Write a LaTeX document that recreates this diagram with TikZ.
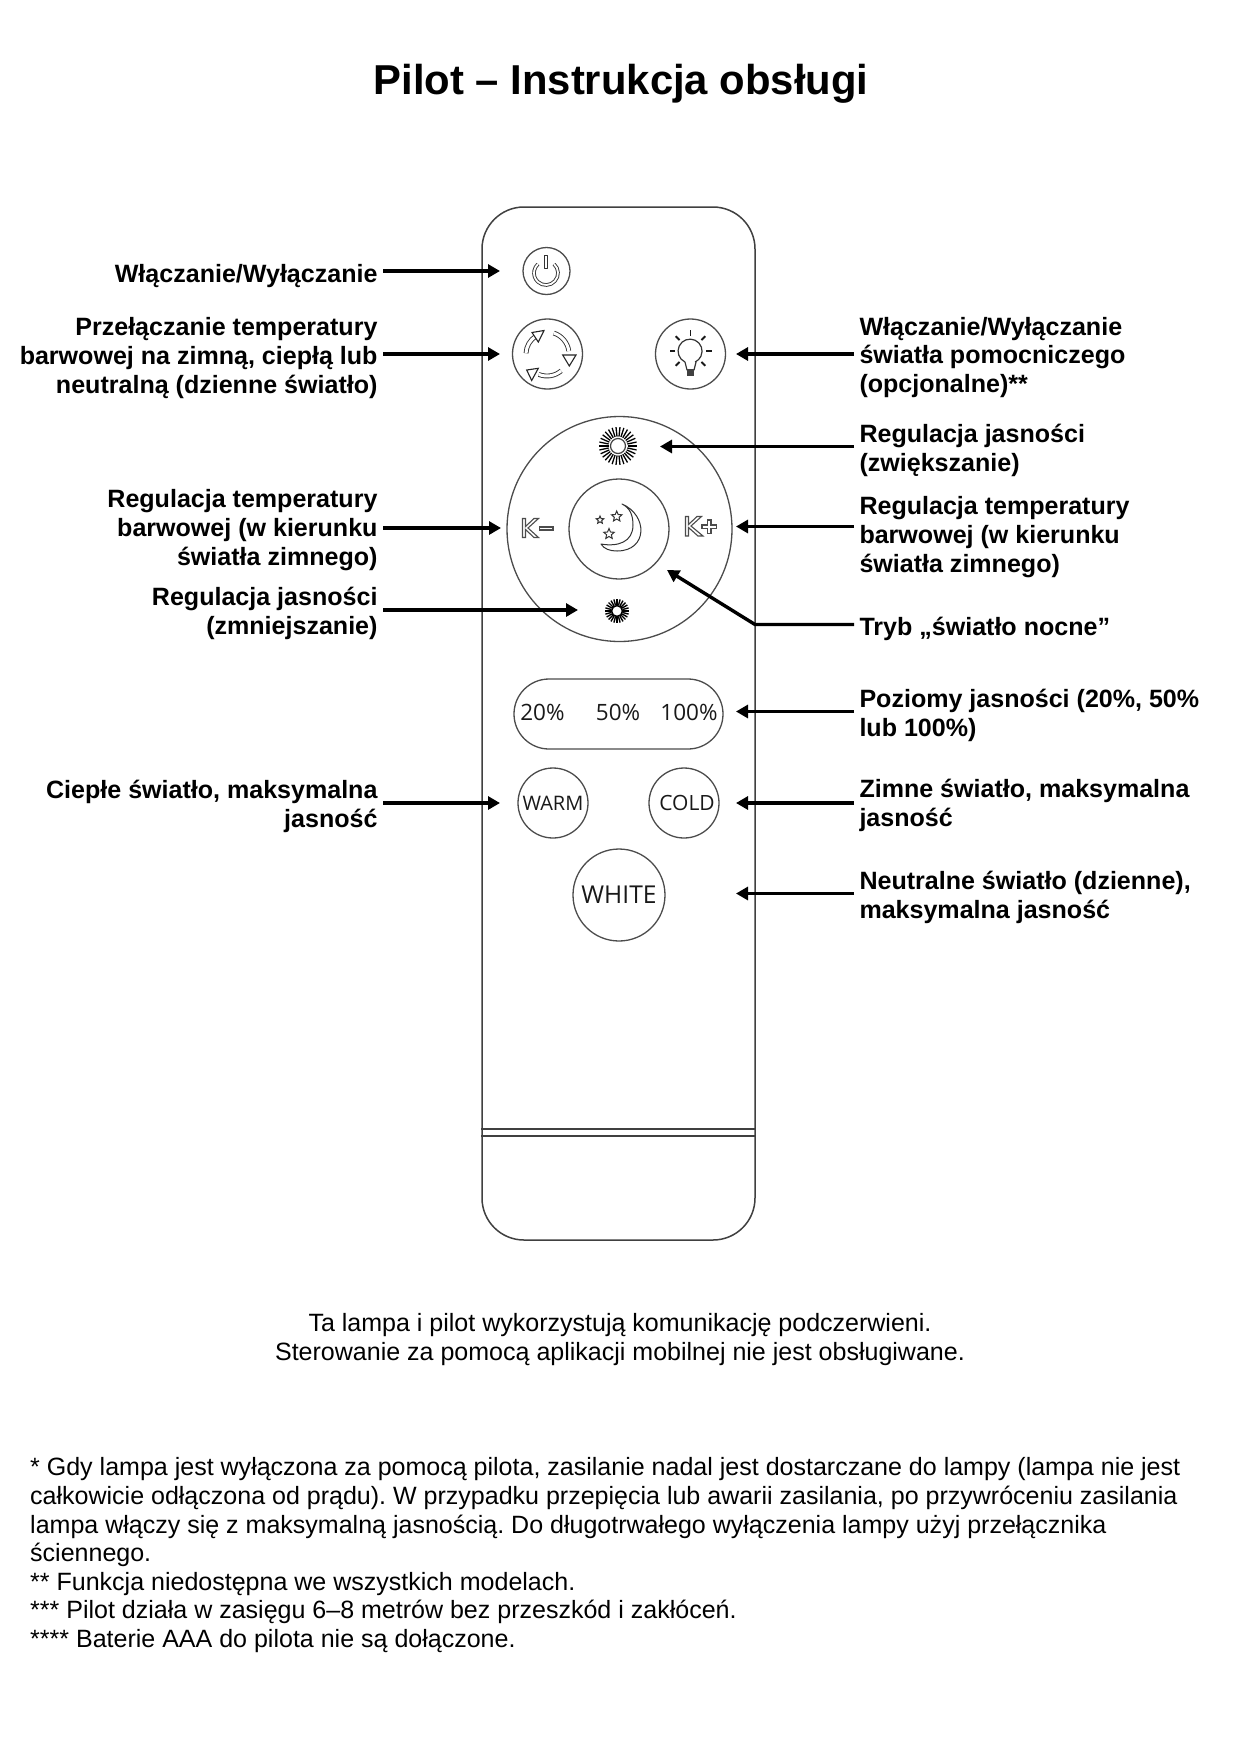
\documentclass[tikz,border=0pt]{standalone}
\usepackage{fontspec}
\setmainfont{Liberation Sans}
\newfontfamily\uifont{Open Sans}
\usetikzlibrary{arrows.meta,shapes.geometric}
\tikzset{
  x=1pt,y=-1pt,
  lab/.style={font=\frenchspacing\fontsize{25.05}{28.6}\selectfont\bfseries,inner sep=0pt,outer xsep=5.5pt,outer ysep=0pt},
  lableft/.style={lab,anchor=east,align=right},
  labright/.style={lab,anchor=west,align=left},
  para/.style={font=\frenchspacing\fontsize{25.02}{28.6}\selectfont,inner sep=0pt},
  arr/.style={draw=black,line width=3.4pt,-{Triangle[length=12pt,width=13pt]}},
  body/.style={draw=black!75,line width=1.5pt},
  btn/.style={circle,draw=black!70,line width=1.3pt,inner sep=0pt,font=\uifont,text=black!90},
  icon/.style={draw=black!80,line width=1pt,line join=round},
  glyph/.style={draw=black!70,line width=1.1pt,fill=white,line join=miter},
  ray/.style={draw=black,line width=1.3pt},
  startip/.style={star,star points=5,star point ratio=2.2,draw=black!80,line width=1pt,inner sep=0pt},
  bt/.style={inner sep=0pt,text=black!90}
}
\begin{document}
\begin{tikzpicture}
\useasboundingbox[fill=white] (0,0) rectangle (1240,1754);
\node[font=\fontsize{41.8}{48}\selectfont\bfseries,inner sep=0pt] (title) at (621,84) {Pilot – Instrukcja obsługi};

% remote body
\node[body,rectangle,rounded corners=42pt,minimum width=273pt,minimum height=1033pt,inner sep=0pt] (remote) at (618.5,723.5) {};
\coordinate (ba) at (618,1129);
\coordinate (bb) at (618,1136);
\draw[body,line width=1.2pt] (remote.west |- ba) -- (remote.east |- ba);
\draw[body,line width=1.2pt] (remote.west |- bb) -- (remote.east |- bb);

% buttons
\node[btn,minimum size=47pt] (power) at (546.5,271) {};
\node[btn,minimum size=70pt] (cycle) at (547.5,354) {};
\node[btn,minimum size=70pt] (bulb) at (690.5,354) {};
\node[btn,minimum size=225pt] (ring) at (619.5,529) {};
\node[btn,minimum size=100pt] (night) at (619,529) {};
\node[btn,minimum size=70pt,font=\uifont\fontsize{20}{22}\selectfont] (warm) at (553,803) {WARM};
\node[btn,minimum size=70pt,font=\uifont\fontsize{21}{22}\selectfont] (cold) at (684,803) {\hspace*{6pt}COLD};
\node[btn,minimum size=92pt,font=\uifont\fontsize{24.6}{30}\selectfont] (white) at (619,895) {WHITE};
\node[draw=black!70,line width=1.3pt,rectangle,rounded corners=35pt,minimum width=209pt,minimum height=70pt,inner sep=0pt] (pill) at (618.5,714) {};
\node[bt,font=\uifont\fontsize{22.5}{26}\selectfont] (p20) at (542.5,712) {20\%};
\node[bt,font=\uifont\fontsize{22.5}{26}\selectfont] (p50) at (618,712) {50\%};
\node[bt,font=\uifont\fontsize{22.5}{26}\selectfont] (p100) at (689,712) {100\%};

% power icon
\begin{scope}[shift={(546,273)}]
  \draw[icon,double=white,double distance=1.8pt,line width=.9pt] (-48:12) arc[start angle=-48,end angle=228,radius=12];
\end{scope}
\draw[icon,line width=1pt,fill=white] (544.8,255) rectangle (547.2,268);

% cycle icon
\begin{scope}[shift={(547,354)},yscale=-1]
  \draw[icon,double=white,double distance=3pt,line width=.9pt] (178:21) arc[start angle=178,end angle=122,radius=21];
  \draw[icon,double=white,double distance=3pt,line width=.9pt] (72:22) arc[start angle=72,end angle=8,radius=22];
  \draw[icon,double=white,double distance=3pt,line width=.9pt] (-50:22) arc[start angle=-50,end angle=-112,radius=22];
\end{scope}
\draw[glyph,draw=black!85] (532,332.5) -- (544,330.5) -- (538.3,342) -- cycle;
\draw[glyph,draw=black!85] (562.7,355) -- (576,355) -- (569.3,366) -- cycle;
\draw[glyph,draw=black!85] (526.7,370) -- (538.3,368.3) -- (531.7,380.5) -- cycle;

% bulb icon
\draw[icon,line width=1.2pt] (685,362) arc[start angle=115,end angle=425,radius=12];
\draw[icon,line width=1.2pt] (685,362) -- (687,370) -- (694,370) -- (696,362);
\fill[black!75] (686.7,369) rectangle (694.3,376);
\begin{scope}[shift={(690.5,351)},yscale=-1]
  \foreach \a in {0,45,90,135,180,225,315}
    \draw[draw=black!90,line width=1.8pt] (\a:15.5) -- (\a:21);
\end{scope}

% suns
\node[circle,draw=black!75,line width=1.2pt,minimum size=15pt,inner sep=0pt] (sunhi) at (618,446) {};
\begin{scope}[shift={(618,446)}]
  \foreach \a in {0,12,...,348}
    \draw[ray] (\a:9.5) -- (\a:19);
\end{scope}
\node[circle,draw=black,line width=1.6pt,minimum size=11pt,inner sep=0pt] (sunlo) at (617,611) {};
\begin{scope}[shift={(617,611)}]
  \foreach \a in {0,15,...,345}
    \draw[ray,line width=1.4pt] (\a:6) -- (\a:12);
\end{scope}

% moon and stars
\draw[icon,line width=1pt] (622,504) .. controls (648,515) and (648,551) .. (617,551) .. controls (610,551) and (604,549) .. (601,544)
  .. controls (618,547) and (633,542) .. (633,525) .. controls (633,515) and (630,508) .. (622,504) -- cycle;
\node[startip,minimum size=11pt] (s1) at (616.7,516.5) {};
\node[startip,minimum size=8pt] (s2) at (600,520) {};
\node[startip,minimum size=11pt] (s3) at (609,534) {};

% K- K+
\draw[glyph] (522.5,518.5) -- (525.5,518.5) -- (525.5,526.5) -- (534,518.5) -- (538.5,518.5) -- (528,528) -- (538.5,537.5) -- (534,537.5) -- (525.5,529.5) -- (525.5,537.5) -- (522.5,537.5) -- cycle;
\draw[glyph] (539.5,527) rectangle (553,530);
\draw[glyph] (685.5,516.5) -- (688.5,516.5) -- (688.5,524.5) -- (697,516.5) -- (701.5,516.5) -- (691,526) -- (703,536) -- (698,536) -- (688.5,527.5) -- (688.5,536) -- (685.5,536) -- cycle;
\draw[glyph] (707.5,520) -- (711,520) -- (711,525) -- (716.5,525) -- (716.5,528.5) -- (711,528.5) -- (711,533.5) -- (707.5,533.5) -- (707.5,528.5) -- (702,528.5) -- (702,525) -- (707.5,525) -- cycle;

% labels left
\node[lableft] (l1) at (383,276.5) {Włączanie/Wyłączanie};
\node[lableft] (l2) at (383,358) {Przełączanie temperatury\\barwowej na zimną, ciepłą lub\\neutralną (dzienne światło)};
\node[lableft] (l3) at (383,530) {Regulacja temperatury\\barwowej (w kierunku\\światła zimnego)};
\node[lableft] (l4) at (383,613.5) {Regulacja jasności\\(zmniejszanie)};
\node[lableft] (l5) at (383,806.5) {Ciepłe światło, maksymalna\\jasność};
% labels right
\node[labright] (r1) at (854,357.5) {Włączanie/Wyłączanie\\światła pomocniczego\\(opcjonalne)**};
\node[labright] (r2) at (854,450.5) {Regulacja jasności\\(zwiększanie)};
\node[labright] (r3) at (854,537) {Regulacja temperatury\\barwowej (w kierunku\\światła zimnego)};
\node[labright] (r4) at (854,629) {Tryb „światło nocne”};
\node[labright] (r5) at (854,715.5) {Poziomy jasności (20\%, 50\%\\lub 100\%)};
\node[labright] (r6) at (854,805.5) {Zimne światło, maksymalna\\jasność};
\node[labright] (r7) at (854,897.5) {Neutralne światło (dzienne),\\maksymalna jasność};

% arrow targets
\coordinate (tl1) at (500,271);
\coordinate (tl2) at (500,354);
\coordinate (tl3) at (501,528);
\coordinate (tl4) at (578,610);
\coordinate (tl5) at (500,803);
\coordinate (tr1) at (736,354);
\coordinate (tr2) at (660,446.5);
\coordinate (tr3) at (736,526.5);
\coordinate (kn) at (755,624.5);
\coordinate (tr4) at (667,570);
\coordinate (tr5) at (736,711.5);
\coordinate (tr6) at (736,803);
\coordinate (tr7) at (736,893.5);

\draw[arr] (l1.east |- tl1) -- (tl1);
\draw[arr] (l2.east |- tl2) -- (tl2);
\draw[arr] (l3.east |- tl3) -- (tl3);
\draw[arr] (l4.east |- tl4) -- (tl4);
\draw[arr] (l5.east |- tl5) -- (tl5);
\draw[arr] (r1.west |- tr1) -- (tr1);
\draw[arr] (r2.west |- tr2) -- (tr2);
\draw[arr] (r3.west |- tr3) -- (tr3);
\draw[arr] (r4.west |- kn) -- (kn) -- (tr4);
\draw[arr] (r5.west |- tr5) -- (tr5);
\draw[arr] (r6.west |- tr6) -- (tr6);
\draw[arr] (r7.west |- tr7) -- (tr7);

% bottom text
\node[para,align=center] (note) at (620,1339.5) {Ta lampa i pilot wykorzystują komunikację podczerwieni.\\Sterowanie za pomocą aplikacji mobilnej nie jest obsługiwane.};
\node[para,align=left,anchor=north west] (foot) at (30,1457.5) {* Gdy lampa jest wyłączona za pomocą pilota, zasilanie nadal jest dostarczane do lampy (lampa nie jest\\całkowicie odłączona od prądu). W przypadku przepięcia lub awarii zasilania, po przywróceniu zasilania\\lampa włączy się z maksymalną jasnością. Do długotrwałego wyłączenia lampy użyj przełącznika\\ściennego.\\** Funkcja niedostępna we wszystkich modelach.\\*** Pilot działa w zasięgu 6–8 metrów bez przeszkód i zakłóceń.\\**** Baterie AAA do pilota nie są dołączone.};
\end{tikzpicture}
\end{document}
